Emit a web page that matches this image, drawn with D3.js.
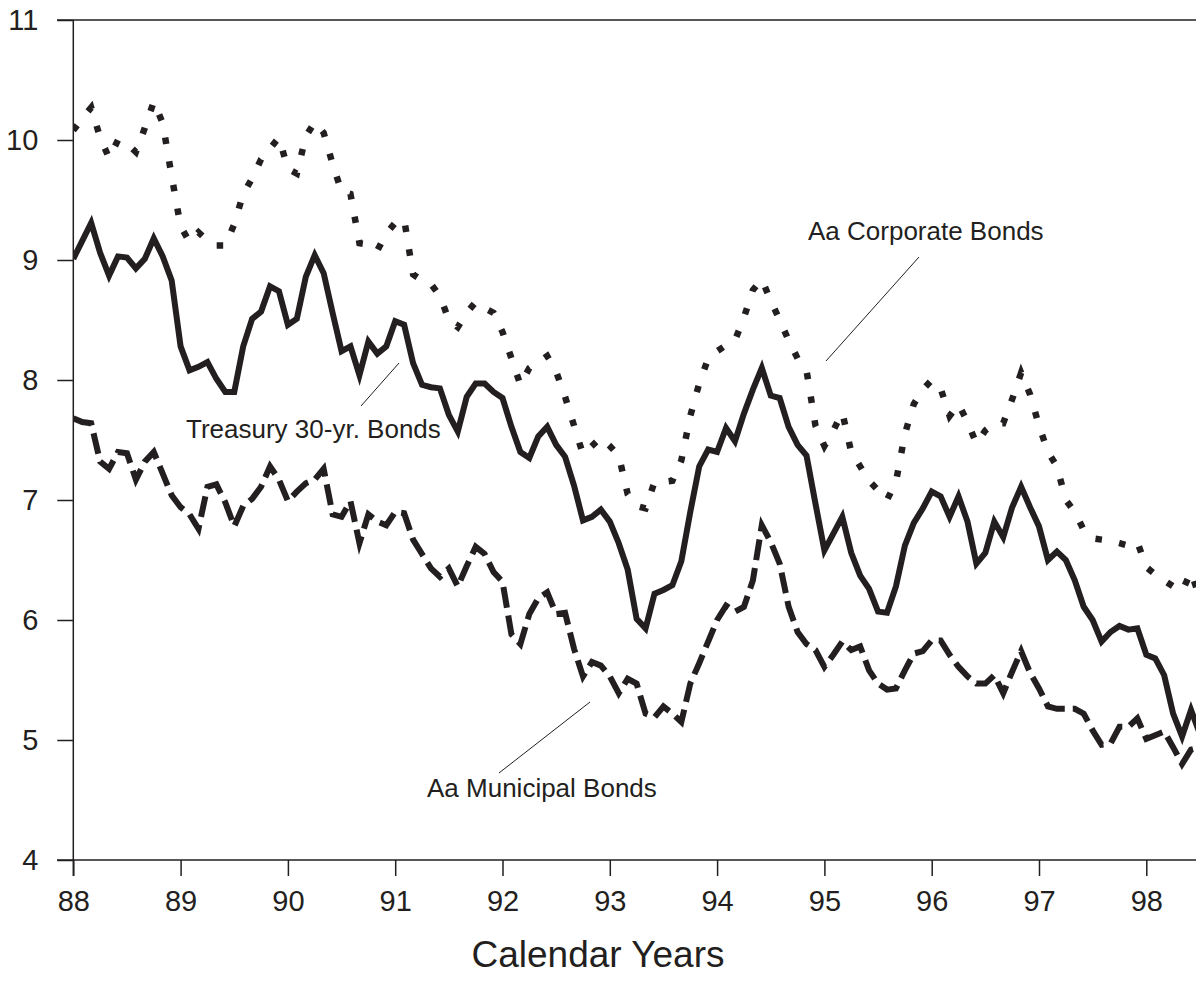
<!DOCTYPE html>
<html lang="en">
<head>
<meta charset="utf-8">
<title>Bond Yields</title>
<script src="https://d3js.org/d3.v7.min.js"></script>
<style>
  body { margin: 0; background: #fff; }
  svg { display: block; font-family: 'Liberation Sans', Arial, Helvetica, sans-serif; }
</style>
</head>
<body>
<div id="chart"></div>
<script>
// monthly yields, Jan 1988 onward
var treasury = [9.01, 9.16, 9.31, 9.06, 8.87, 9.03, 9.02, 8.93, 9.01, 9.18, 9.03, 8.83,
  8.28, 8.08, 8.11, 8.15, 8.01, 7.90, 7.90, 8.28, 8.51, 8.57, 8.78, 8.74,
  8.46, 8.51, 8.86, 9.04, 8.89, 8.56, 8.24, 8.28, 8.04, 8.32, 8.22, 8.28,
  8.49, 8.46, 8.14, 7.96, 7.94, 7.93, 7.71, 7.57, 7.86, 7.97, 7.97, 7.90,
  7.85, 7.61, 7.40, 7.35, 7.53, 7.61, 7.46, 7.36, 7.12, 6.83, 6.86, 6.92,
  6.82, 6.64, 6.42, 6.01, 5.93, 6.22, 6.25, 6.29, 6.49, 6.90, 7.28, 7.42,
  7.40, 7.60, 7.49, 7.72, 7.92, 8.10, 7.87, 7.85, 7.61, 7.46, 7.37, 6.97,
  6.58, 6.72, 6.86, 6.56, 6.37, 6.26, 6.07, 6.06, 6.28, 6.62, 6.81, 6.93,
  7.07, 7.03, 6.86, 7.03, 6.82, 6.47, 6.56, 6.82, 6.69, 6.94, 7.11, 6.94,
  6.78, 6.50, 6.57, 6.50, 6.33, 6.11, 6.00, 5.82, 5.90, 5.95, 5.92, 5.93,
  5.71, 5.68, 5.54, 5.22, 5.03, 5.25, 5.05];

var corporate = [10.08, 10.18, 10.27, 10.02, 9.85, 10.00, 9.97, 9.90, 10.10, 10.32, 10.14, 9.70,
  9.28, 9.15, 9.23, 9.16, 9.12, 9.12, 9.30, 9.55, 9.68, 9.84, 9.93, 10.02,
  9.76, 9.72, 10.03, 10.15, 10.06, 9.80, 9.57, 9.55, 9.14, 9.13, 9.08, 9.22,
  9.31, 9.34, 8.88, 8.83, 8.80, 8.70, 8.50, 8.44, 8.56, 8.65, 8.60, 8.56,
  8.40, 8.18, 7.96, 8.10, 8.15, 8.20, 8.07, 7.86, 7.62, 7.38, 7.45, 7.52,
  7.45, 7.37, 7.05, 6.95, 6.93, 7.15, 7.15, 7.16, 7.33, 7.70, 7.97, 8.18,
  8.24, 8.29, 8.33, 8.52, 8.75, 8.84, 8.66, 8.50, 8.33, 8.18, 8.08, 7.62,
  7.45, 7.58, 7.73, 7.40, 7.28, 7.16, 7.08, 7.00, 7.15, 7.55, 7.80, 7.92,
  8.00, 7.93, 7.70, 7.80, 7.65, 7.47, 7.58, 7.64, 7.64, 7.84, 8.06, 7.88,
  7.62, 7.40, 7.28, 7.00, 6.90, 6.75, 6.68, 6.67, 6.66, 6.64, 6.62, 6.65,
  6.44, 6.38, 6.33, 6.28, 6.24, 6.40, 6.18];

var municipal = [7.68, 7.65, 7.64, 7.32, 7.26, 7.40, 7.39, 7.17, 7.32, 7.40, 7.22, 7.04,
  6.94, 6.88, 6.76, 7.11, 7.13, 6.98, 6.78, 6.95, 7.01, 7.11, 7.28, 7.17,
  6.99, 7.07, 7.14, 7.17, 7.26, 6.88, 6.86, 6.99, 6.64, 6.88, 6.82, 6.79,
  6.90, 6.89, 6.67, 6.55, 6.43, 6.36, 6.43, 6.28, 6.45, 6.61, 6.55, 6.40,
  6.32, 5.88, 5.80, 6.05, 6.18, 6.23, 6.05, 6.06, 5.76, 5.53, 5.65, 5.62,
  5.53, 5.39, 5.51, 5.47, 5.22, 5.19, 5.28, 5.22, 5.15, 5.47, 5.64, 5.82,
  6.00, 6.12, 6.07, 6.11, 6.33, 6.79, 6.65, 6.47, 6.11, 5.90, 5.80, 5.75,
  5.61, 5.71, 5.82, 5.75, 5.78, 5.58, 5.47, 5.42, 5.43, 5.58, 5.72, 5.74,
  5.83, 5.83, 5.71, 5.61, 5.53, 5.47, 5.47, 5.54, 5.39, 5.57, 5.74, 5.56,
  5.43, 5.28, 5.26, 5.26, 5.26, 5.22, 5.08, 4.96, 4.97, 5.11, 5.11, 5.18,
  5.01, 5.04, 5.07, 4.94, 4.80, 4.92, 4.94];

var yearTicks = [88, 89, 90, 91, 92, 93, 94, 95, 96, 97, 98];
var yieldTicks = [4, 5, 6, 7, 8, 9, 10, 11];

var W = 1196, H = 996;
var ink = "#231f20";

var svg = d3.select("#chart").append("svg")
    .attr("width", W).attr("height", H);

var x = d3.scaleLinear().domain([88, 98]).range([73.3, 1146.3]);
var y = d3.scaleLinear().domain([4, 11]).range([860, 20]);

svg.append("clipPath").attr("id", "plot")
  .append("rect").attr("x", 73).attr("y", 0).attr("width", W - 73).attr("height", 860);

// y axis: ticks point outward, top tick runs across the width
var yAxis = svg.append("g").attr("transform", "translate(73.3,0)")
    .call(d3.axisLeft(y).tickValues(yieldTicks).tickSize(16).tickPadding(19).tickFormat(d3.format("d")));
yAxis.select(".domain").remove();
yAxis.selectAll("line").attr("stroke", ink).attr("stroke-width", 1.5);
yAxis.selectAll("text").attr("font-size", 29).attr("fill", ink).attr("font-family", null);
svg.append("line").attr("x1", 73.3).attr("x2", 73.3).attr("y1", 20).attr("y2", 876)
    .attr("stroke", ink).attr("stroke-width", 1.5);
svg.append("line").attr("x1", 57).attr("x2", W).attr("y1", y(11)).attr("y2", y(11))
    .attr("stroke", ink).attr("stroke-width", 1.5);

var xAxis = svg.append("g").attr("transform", "translate(0,860)")
    .call(d3.axisBottom(x).tickValues(yearTicks).tickSize(16).tickPadding(14).tickFormat(d3.format("d")));
xAxis.select(".domain").remove();
xAxis.selectAll("line").attr("stroke", ink).attr("stroke-width", 1.5);
xAxis.selectAll("text").attr("font-size", 29).attr("fill", ink).attr("font-family", null);
svg.append("line").attr("x1", 57).attr("x2", W).attr("y1", 860).attr("y2", 860)
    .attr("stroke", ink).attr("stroke-width", 1.5);

var line = d3.line()
    .x(function(d, i) { return x(88 + i / 12); })
    .y(function(d) { return y(d); });

var g = svg.append("g").attr("clip-path", "url(#plot)");
g.append("path").datum(corporate).attr("d", line)
    .attr("fill", "none").attr("stroke", ink).attr("stroke-width", 6.5)
    .attr("stroke-dasharray", "6.5,17.5").attr("stroke-linejoin", "miter");
g.append("path").datum(municipal).attr("d", line)
    .attr("fill", "none").attr("stroke", ink).attr("stroke-width", 6)
    .attr("stroke-dasharray", "21,8").attr("stroke-linejoin", "miter");
g.append("path").datum(treasury).attr("d", line)
    .attr("fill", "none").attr("stroke", ink).attr("stroke-width", 6)
    .attr("stroke-linejoin", "miter");

// labels and leader lines
function note(txt, tx, ty, lx1, ly1, lx2, ly2) {
  svg.append("line").attr("x1", lx1).attr("y1", ly1).attr("x2", lx2).attr("y2", ly2)
      .attr("stroke", ink).attr("stroke-width", 1);
  svg.append("text").attr("x", tx).attr("y", ty).attr("font-size", 26).attr("fill", ink).text(txt);
}
note("Aa Corporate Bonds", 808, 240, 919, 257, 826, 361);
note("Treasury 30-yr. Bonds", 186, 438, 399, 363, 361, 406);
note("Aa Municipal Bonds", 427, 797, 590, 702, 499, 773);

svg.append("text").attr("x", 598).attr("y", 967).attr("text-anchor", "middle")
    .attr("font-size", 37).attr("fill", ink).text("Calendar Years");
</script>
</body>
</html>
